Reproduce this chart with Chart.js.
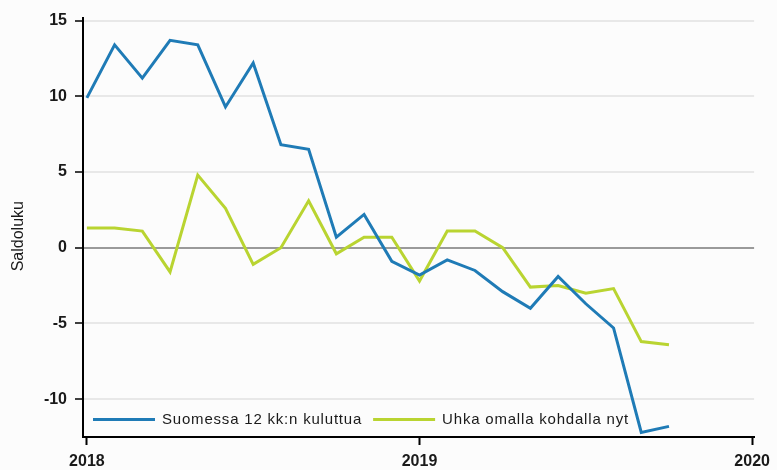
<!DOCTYPE html>
<html>
<head>
<meta charset="utf-8">
<script src="https://cdn.jsdelivr.net/npm/chart.js@4.4.1/dist/chart.umd.min.js"></script>
<style>
  html, body { margin: 0; padding: 0; background: #fcfcfc; }
  #wrap { width: 777px; height: 470px; }
</style>
</head>
<body>
<div id="wrap"><canvas id="chart" width="777" height="470"></canvas></div>
<script>
// monthly survey balance figures, Jan 2018 .. Oct 2019
const months = [
  '2018M01', '2018M02', '2018M03', '2018M04', '2018M05', '2018M06',
  '2018M07', '2018M08', '2018M09', '2018M10', '2018M11', '2018M12',
  '2019M01', '2019M02', '2019M03', '2019M04', '2019M05', '2019M06',
  '2019M07', '2019M08', '2019M09', '2019M10'
];
const seriesNames = ['Suomessa 12 kk:n kuluttua', 'Uhka omalla kohdalla nyt'];
const suomessa = [9.9, 13.4, 11.2, 13.7, 13.4, 9.3, 12.2, 6.8, 6.5, 0.7, 2.2, -0.9,
  -1.8, -0.8, -1.5, -2.9, -4.0, -1.9, -3.7, -5.3, -12.2, -11.8];
const uhka = [1.3, 1.3, 1.1, -1.6, 4.8, 2.6, -1.1, 0.0, 3.1, -0.4, 0.7, 0.7,
  -2.2, 1.1, 1.1, 0.0, -2.6, -2.5, -3.0, -2.7, -6.2, -6.4];
const yTicks = [-10, -5, 0, 5, 10, 15];
const xTickLabels = ['2018', '2019', '2020'];

const FONT = '"Liberation Sans", Arial, sans-serif';
const TEXT = '#1a1a1a';

const toPoints = vals => vals.map((v, i) => ({ x: i, y: v }));

const background = {
  id: 'background',
  beforeDraw(chart) {
    const ctx = chart.ctx;
    ctx.save();
    ctx.fillStyle = '#fcfcfc';
    ctx.fillRect(0, 0, chart.width, chart.height);
    ctx.restore();
  }
};

// legend sits inside the plot, bottom left
const legendInside = {
  id: 'legendInside',
  afterDatasetsDraw(chart) {
    const { ctx, chartArea } = chart;
    const y = chartArea.bottom - 17.5;
    let x = chartArea.left + 10;
    ctx.save();
    ctx.font = '15px ' + FONT;
    ctx.letterSpacing = '0.8px';
    ctx.textBaseline = 'middle';
    chart.data.datasets.forEach(ds => {
      ctx.strokeStyle = ds.borderColor;
      ctx.lineWidth = 3;
      ctx.beginPath();
      ctx.moveTo(x, y);
      ctx.lineTo(x + 62, y);
      ctx.stroke();
      x += 69;
      ctx.fillStyle = TEXT;
      ctx.fillText(ds.label, x, y);
      x += ctx.measureText(ds.label).width + 11;
    });
    ctx.restore();
  }
};

new Chart(document.getElementById('chart'), {
  type: 'line',
  data: {
    datasets: [
      { label: seriesNames[0], data: toPoints(suomessa), borderColor: '#1f7bb6', borderWidth: 3 },
      { label: seriesNames[1], data: toPoints(uhka), borderColor: '#b9d431', borderWidth: 3 }
    ]
  },
  options: {
    responsive: false,
    animation: false,
    layout: { padding: { left: 0, right: 19, top: 17, bottom: 0 } },
    elements: { point: { radius: 0 }, line: { tension: 0 } },
    plugins: {
      legend: { display: false },
      tooltip: { enabled: false }
    },
    scales: {
      x: {
        type: 'linear',
        min: -0.14,
        max: 24.07,
        afterBuildTicks: s => { s.ticks = xTickLabels.map((_, i) => ({ value: i * 12 })); },
        afterFit: s => { s.height = 33; },
        ticks: {
          autoSkip: false,
          maxRotation: 0,
          padding: 7,
          color: TEXT,
          font: { family: FONT, size: 16, weight: 'bold' },
          callback: v => xTickLabels[v / 12]
        },
        grid: { drawOnChartArea: false, tickLength: 8, tickColor: '#000', tickWidth: 2 },
        border: { color: '#000', width: 2 }
      },
      y: {
        min: -12.5,
        max: 15.2,
        afterBuildTicks: s => { s.ticks = yTicks.map(v => ({ value: v })); },
        afterFit: s => { s.width = 83; },
        ticks: {
          padding: 8,
          color: TEXT,
          font: { family: FONT, size: 16, weight: 'bold' }
        },
        grid: {
          color: c => (c.tick && c.tick.value === 0 ? '#9a9a9a' : '#e8e8e8'),
          lineWidth: 2,
          tickLength: 8,
          tickColor: '#000',
          tickWidth: 1.5
        },
        border: { color: '#000', width: 2 },
        title: {
          display: true,
          // trailing spaces nudge the rotated label a little lower, as in the original
          text: 'Saldoluku    ',
          color: TEXT,
          font: { family: FONT, size: 16 },
          padding: { top: 9, bottom: 0 }
        }
      }
    }
  },
  plugins: [background, legendInside]
});
</script>
</body>
</html>
